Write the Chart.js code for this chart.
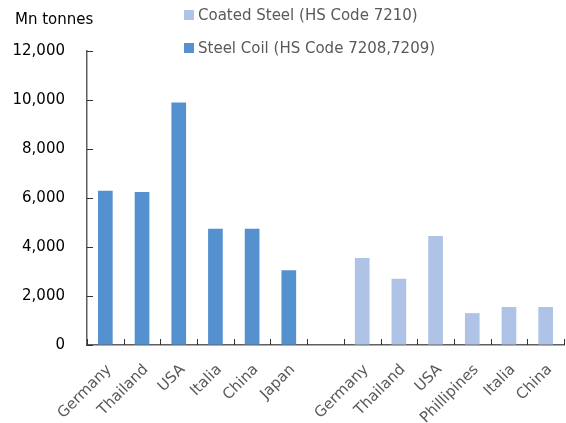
<!DOCTYPE html>
<html>
<head>
<meta charset="utf-8">
<script src="https://cdn.jsdelivr.net/npm/chart.js@4.4.1/dist/chart.umd.min.js"></script>
<style>
  html, body { margin: 0; padding: 0; background: #ffffff; }
  #wrap { width: 566px; height: 423px; }
</style>
</head>
<body>
<div id="wrap"><canvas id="c" width="566" height="423"></canvas></div>
<script>
// Categories: steel coil exporters, a spacer slot, then coated steel exporters
const categories = ['Germany', 'Thailand', 'USA', 'Italia', 'China', 'Japan', '',
                    'Germany', 'Thailand', 'USA', 'Phillipines', 'Italia', 'China'];

// Steel Coil (HS Code 7208,7209), Mn tonnes
const steelCoil = [6300, 6250, 9900, 4750, 4750, 3050, null,
                   null, null, null, null, null, null];

// Coated Steel (HS Code 7210), Mn tonnes
const coatedSteel = [null, null, null, null, null, null, null,
                     3550, 2700, 4450, 1300, 1550, 1550];

const yTicks = [0, 2000, 4000, 6000, 8000, 10000, 12000];

const FONT = 'DejaVu Sans';
const COIL_COLOR = '#5691cf';
const COATED_COLOR = '#aec3e6';
const AXIS_COLOR = '#5f5f5f';

// Short tick marks pointing into the plot area from both axes
const innerTicksPlugin = {
  id: 'innerTicks',
  afterDatasetsDraw(chart) {
    const { ctx, scales: { x, y } } = chart;
    const len = 6;
    ctx.save();
    ctx.strokeStyle = '#333333';
    ctx.lineWidth = 1;
    ctx.beginPath();
    // x: marks on category boundaries
    const n = chart.data.labels.length;
    const half = (x.getPixelForValue(1) - x.getPixelForValue(0)) / 2;
    for (let i = 0; i <= n; i++) {
      const px = Math.round(x.getPixelForValue(Math.min(i, n - 1)) + (i < n ? -half : half)) + 0.5;
      ctx.moveTo(px, y.bottom);
      ctx.lineTo(px, y.bottom - len);
    }
    // y: marks at each labelled value
    yTicks.forEach(v => {
      const py = Math.round(y.getPixelForValue(v)) + 0.5;
      ctx.moveTo(x.left, py);
      ctx.lineTo(x.left + len, py);
    });
    ctx.stroke();
    ctx.restore();
  }
};

// Draws the unit caption and the stacked legend in the top band
const headerPlugin = {
  id: 'header',
  afterDraw(chart) {
    const ctx = chart.ctx;
    ctx.save();
    ctx.font = '15px "' + FONT + '"';
    ctx.textBaseline = 'middle';
    ctx.textAlign = 'left';
    ctx.fillStyle = '#000000';
    ctx.fillText('Mn tonnes', 15, 20);

    // legend order: coated steel first, then steel coil
    const order = [1, 0];
    order.forEach((dsIndex, row) => {
      const ds = chart.data.datasets[dsIndex];
      const cy = 15 + row * 33;
      ctx.fillStyle = ds.backgroundColor;
      ctx.fillRect(184, cy - 5, 10, 10);
      ctx.fillStyle = '#595959';
      ctx.fillText(ds.label, 198, cy + 1);
    });
    ctx.restore();
  }
};

new Chart(document.getElementById('c'), {
  type: 'bar',
  data: {
    labels: categories,
    datasets: [
      {
        label: 'Steel Coil (HS Code 7208,7209)',
        data: steelCoil,
        backgroundColor: COIL_COLOR,
        barPercentage: 0.4,
        categoryPercentage: 1.0
      },
      {
        label: 'Coated Steel (HS Code 7210)',
        data: coatedSteel,
        backgroundColor: COATED_COLOR,
        barPercentage: 0.4,
        categoryPercentage: 1.0
      }
    ]
  },
  options: {
    responsive: false,
    animation: false,
    skipNull: true,
    layout: { padding: { top: 51, right: 2, left: 0, bottom: 0 } },
    plugins: {
      legend: { display: false },
      tooltip: { enabled: false }
    },
    scales: {
      x: {
        grid: { display: true, offset: true, drawOnChartArea: false, drawTicks: false },
        border: { display: true, color: AXIS_COLOR, width: 1.5 },
        ticks: {
          autoSkip: false,
          minRotation: 45,
          maxRotation: 45,
          padding: 16,
          labelOffset: 4,
          color: '#595959',
          font: { family: FONT, size: 15 }
        },
        afterFit(scale) {
          scale.height = 78;
          scale.paddingLeft = 0;
          scale.paddingRight = 0;
        }
      },
      y: {
        min: 0,
        max: 12000,
        afterBuildTicks(scale) {
          scale.ticks = yTicks.map(v => ({ value: v }));
        },
        grid: { display: true, drawOnChartArea: false, drawTicks: false },
        border: { display: true, color: AXIS_COLOR, width: 1.5 },
        ticks: {
          padding: 22,
          color: '#000000',
          font: { family: FONT, size: 15 },
          callback: (v) => Number(v).toLocaleString('en-US')
        },
        afterFit(scale) { scale.width = 87; }
      }
    }
  },
  plugins: [innerTicksPlugin, headerPlugin]
});
</script>
</body>
</html>
